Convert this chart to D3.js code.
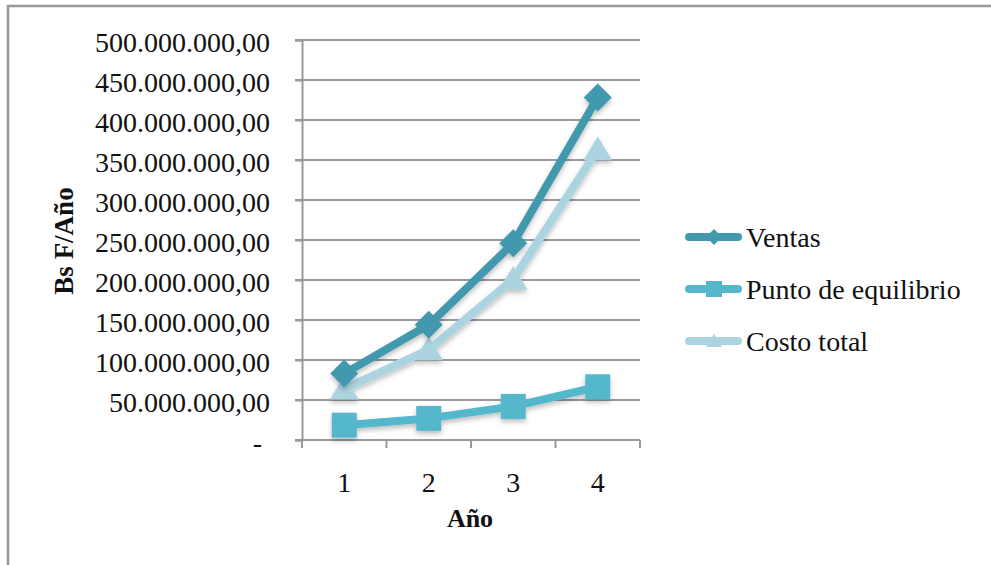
<!DOCTYPE html>
<html>
<head>
<meta charset="utf-8">
<script src="https://cdn.jsdelivr.net/npm/d3@7"></script>
<style>
  html, body { margin: 0; padding: 0; background: #fff; }
  svg { display: block; }
  text { font-family: "Liberation Serif", "DejaVu Serif", serif; fill: #111; }
</style>
</head>
<body>
<svg id="chart" width="991" height="565"></svg>
<script>
// Years on the category axis
const years = ["1", "2", "3", "4"];
// Series values in Bs F per year
const ventas = [83000000, 144000000, 246000000, 428000000];
const puntoEquilibrio = [18500000, 27000000, 42000000, 66500000];
const costoTotal = [64000000, 113000000, 201000000, 363000000];
// Value axis ticks
const yTicks = [0, 50000000, 100000000, 150000000, 200000000, 250000000, 300000000, 350000000, 400000000, 450000000, 500000000];

const seriesNames = ["Ventas", "Punto de equilibrio", "Costo total"];
const seriesColors = ["#4399ae", "#55b7cc", "#acd4e0"];
const seriesShapes = ["diamond", "square", "triangle"];
const seriesValues = [ventas, puntoEquilibrio, costoTotal];

const serif = "'Liberation Serif', 'DejaVu Serif', serif";
const svg = d3.select("#chart");

// drop shadow used by the series lines and markers
const defs = svg.append("defs");
const f = defs.append("filter").attr("id", "shadow")
  .attr("x", "-30%").attr("y", "-30%").attr("width", "160%").attr("height", "160%");
f.append("feDropShadow").attr("dx", 0).attr("dy", 3).attr("stdDeviation", 2.5)
  .attr("flood-color", "#000").attr("flood-opacity", 0.25);

// outer chart frame (top and left edges)
svg.append("path").attr("d", "M8,565 V6 H991")
  .attr("fill", "none").attr("stroke", "#999").attr("stroke-width", 2.5);

const plot = { left: 302, right: 640, top: 40, bottom: 440 };

const x = d3.scaleBand().domain(years).range([plot.left, plot.right]).padding(0);
const y = d3.scaleLinear().domain([0, 500000000]).range([plot.bottom, plot.top]);

const loc = d3.formatLocale({ decimal: ",", thousands: ".", grouping: [3], currency: ["", ""] });
const fmt = loc.format(",.2f");

// horizontal gridlines
svg.append("g").selectAll("line").data(yTicks).join("line")
  .attr("x1", plot.left - 7).attr("x2", plot.right)
  .attr("y1", d => y(d)).attr("y2", d => y(d))
  .attr("stroke", "#9a9a9a").attr("stroke-width", 2);

// value axis
const yAxis = svg.append("g").attr("transform", `translate(${plot.left},0)`)
  .call(d3.axisLeft(y).tickValues(yTicks).tickSize(7).tickPadding(25)
    .tickFormat(d => d === 0 ? "-" : fmt(d)))
  .attr("font-family", serif).attr("font-size", 28);
yAxis.select(".domain").attr("stroke", "#9a9a9a").attr("stroke-width", 2);
yAxis.selectAll(".tick line").attr("stroke", "#9a9a9a").attr("stroke-width", 2);
yAxis.selectAll(".tick text").attr("dy", "0.4em").attr("fill", "#111");
yAxis.selectAll(".tick text").filter(d => d === 0).attr("dx", -8);

// category axis
const xAxis = svg.append("g").attr("transform", `translate(0,${plot.bottom})`)
  .call(d3.axisBottom(x).tickSize(0).tickPadding(32))
  .attr("font-family", serif).attr("font-size", 28);
xAxis.select(".domain").remove();
xAxis.selectAll(".tick text").attr("fill", "#111");

// category boundary ticks
const bounds = years.map(d => x(d)).concat([plot.right]);
svg.append("g").selectAll("line").data(bounds).join("line")
  .attr("x1", d => d).attr("x2", d => d)
  .attr("y1", plot.bottom).attr("y2", plot.bottom + 8)
  .attr("stroke", "#9a9a9a").attr("stroke-width", 2);
svg.append("line").attr("x1", plot.left).attr("x2", plot.right)
  .attr("y1", plot.bottom).attr("y2", plot.bottom)
  .attr("stroke", "#9a9a9a").attr("stroke-width", 2);

// axis titles
svg.append("text").attr("x", 470).attr("y", 527).attr("text-anchor", "middle")
  .attr("font-size", 26).attr("font-weight", "bold").text("Año");
svg.append("text").attr("transform", "translate(73,241) rotate(-90)")
  .attr("text-anchor", "middle").attr("font-size", 27).attr("font-weight", "bold").text("Bs F/Año");

function markerPath(shape, s) {
  if (shape === "diamond") return `M0,${-s} L${s},0 L0,${s} L${-s},0 Z`;
  if (shape === "square") return `M${-s},${-s} H${s} V${s} H${-s} Z`;
  return `M0,${-s * 1.05} L${s * 1.15},${s * 0.85} L${-s * 1.15},${s * 0.85} Z`;
}

const cx = d => x(d) + x.bandwidth() / 2;
const line = d3.line().x((d, i) => cx(years[i])).y(d => y(d));

// draw the series so Ventas ends on top
const order = [1, 2, 0];
order.forEach(k => {
  const g = svg.append("g").attr("filter", "url(#shadow)");
  g.append("path").datum(seriesValues[k])
    .attr("d", line).attr("fill", "none")
    .attr("stroke", seriesColors[k]).attr("stroke-width", 8)
    .attr("stroke-linejoin", "round").attr("stroke-linecap", "round");
  const sizes = { diamond: 14, square: 12.5, triangle: 12.5 };
  g.selectAll("path.m").data(seriesValues[k]).join("path").attr("class", "m")
    .attr("transform", (d, i) => `translate(${cx(years[i])},${y(d)})`)
    .attr("d", markerPath(seriesShapes[k], sizes[seriesShapes[k]]))
    .attr("fill", seriesColors[k]);
});

// legend
const legendY = [237, 289, 341];
const lg = svg.append("g");
seriesNames.forEach((name, k) => {
  const row = lg.append("g").attr("transform", `translate(0,${legendY[k]})`);
  row.append("line").attr("x1", 689).attr("x2", 738).attr("y1", 0).attr("y2", 0)
    .attr("stroke", seriesColors[k]).attr("stroke-width", 8).attr("stroke-linecap", "round");
  const ms = { diamond: 8, square: 8, triangle: 7 };
  row.append("path").attr("transform", "translate(714,0)")
    .attr("d", markerPath(seriesShapes[k], ms[seriesShapes[k]])).attr("fill", seriesColors[k]);
  row.append("text").attr("x", 746).attr("y", 0).attr("dy", "0.35em")
    .attr("font-size", 28).text(name);
});
</script>
</body>
</html>
